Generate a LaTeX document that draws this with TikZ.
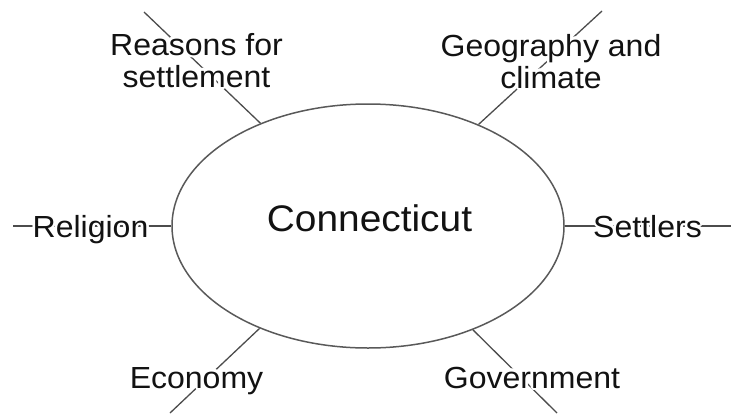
\documentclass[tikz,border=0pt]{standalone}
\usepackage{fontspec}
\setmainfont{Liberation Sans}[FakeStretch=1.05]
\usepackage{contour}
\contourlength{2.5pt}
\usetikzlibrary{shapes.geometric}
\begin{document}
\begin{tikzpicture}[x=1pt,y=-1pt,
  lbl/.style={font=\fontsize{30.5}{32}\selectfont, inner sep=0pt, anchor=base, text=black!93},
  title/.style={font=\fontsize{37}{40}\selectfont, inner sep=0pt, anchor=base, text=black!93},
  conn/.style={draw=black!70, line width=1.3pt},
  hub/.style={ellipse, draw=black!65, line width=1.5pt, minimum width=392pt, minimum height=244pt, inner sep=0pt}]
\useasboundingbox (0,0) rectangle (731,413);
\node[hub] (c) at (368,226) {};
\node[title] (ct) at (369.5,231) {Connecticut};
\coordinate (tl) at (144,12);
\coordinate (tr) at (602,11);
\coordinate (bl) at (170,413);
\coordinate (br) at (557,413);
\coordinate (le) at (13,226);
\coordinate (re) at (731,226);
\draw[conn] (c) -- (tl);
\draw[conn] (c) -- (tr);
\draw[conn] (c) -- (bl);
\draw[conn] (c) -- (br);
\draw[conn] (c.west) -- (le);
\draw[conn] (c.east) -- (re);
\node[lbl] (rel) at (90.5,237) {\contour{white}{Religion}};
\node[lbl] (set) at (647.5,237) {\contour{white}{Settlers}};
\node[lbl] (eco) at (196.5,388) {\contour{white}{Economy}};
\node[lbl] (gov) at (532,388) {\contour{white}{Government}};
\node[lbl] (rea) at (196.5,55) {\begin{tabular}[t]{@{}c@{}}\contour{white}{Reasons for}\\\contour{white}{settlement}\end{tabular}};
\node[lbl] (geo) at (551,56) {\begin{tabular}[t]{@{}c@{}}\contour{white}{Geography and}\\\contour{white}{climate}\end{tabular}};
\end{tikzpicture}
\end{document}
